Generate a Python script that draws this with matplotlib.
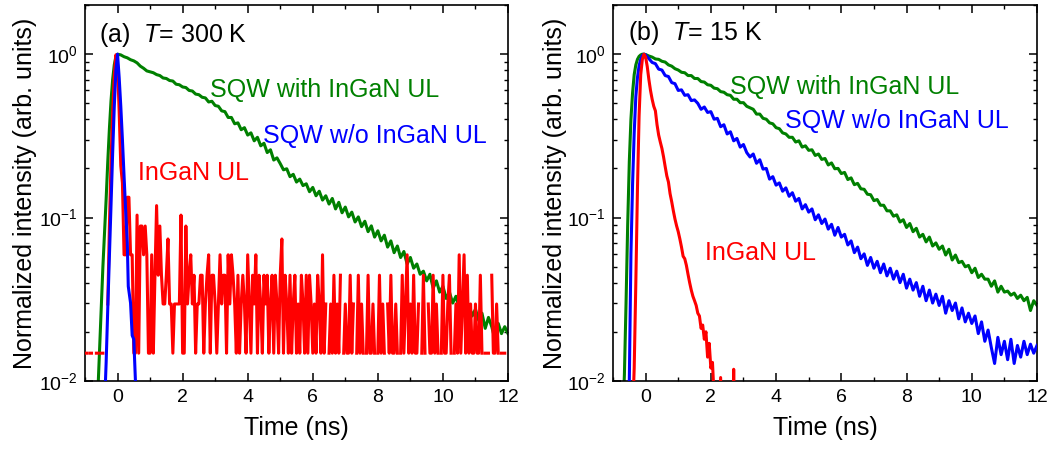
import numpy as np
import matplotlib
matplotlib.use("Agg")
import matplotlib.pyplot as plt
from matplotlib.ticker import MultipleLocator, LogLocator, NullFormatter

# ------------------------------------------------------------------ data
# Panel (a): T = 300 K
green_a_rise_t = [-0.65, -0.60, -0.55, -0.50, -0.45, -0.40, -0.35, -0.30,
                  -0.25, -0.20, -0.15, -0.10, -0.05]
green_a_rise_i = [0.006, 0.009, 0.016, 0.028, 0.05, 0.08, 0.13, 0.22,
                  0.35, 0.52, 0.70, 0.86, 0.97]
green_a_decay_t0 = 0.0
green_a_decay_step = 0.1
green_a_decay_i = [
    1.00, 0.99, 0.965, 0.95, 0.925, 0.91, 0.885, 0.845, 0.82, 0.79,
    0.78, 0.77, 0.75, 0.74, 0.715, 0.71, 0.69, 0.685, 0.655, 0.65,
    0.63, 0.625, 0.60, 0.595, 0.57, 0.565, 0.545, 0.54, 0.51, 0.515,
    0.485, 0.48, 0.45, 0.445, 0.41, 0.41, 0.375, 0.38, 0.345, 0.355,
    0.32, 0.33, 0.295, 0.31, 0.275, 0.285, 0.25, 0.26, 0.225, 0.232,
    0.214, 0.196, 0.199, 0.178, 0.184, 0.165, 0.172, 0.157, 0.161, 0.144,
    0.153, 0.136, 0.145, 0.128, 0.136, 0.121, 0.131, 0.113, 0.124, 0.107,
    0.116, 0.101, 0.108, 0.094, 0.101, 0.088, 0.095, 0.082, 0.089, 0.076,
    0.083, 0.072, 0.078, 0.066, 0.072, 0.061, 0.067, 0.057, 0.062, 0.052,
    0.057, 0.049, 0.052, 0.045, 0.047, 0.041, 0.045, 0.037, 0.041, 0.035,
    0.038, 0.032, 0.035, 0.030, 0.033, 0.028, 0.031, 0.026, 0.029, 0.025,
    0.0275, 0.0235, 0.026, 0.021, 0.0245, 0.0215, 0.018, 0.0225, 0.0195, 0.0215,
    0.0195]

blue_a_t = [-0.45, -0.40, -0.35, -0.30, -0.25, -0.20, -0.15, -0.10, -0.05,
            0.00, 0.05, 0.10, 0.15, 0.20, 0.25, 0.30, 0.33, 0.40, 0.45,
            0.50, 0.55, 0.60, 0.65]
blue_a_i = [0.004, 0.007, 0.013, 0.028, 0.058, 0.12, 0.25, 0.48, 0.80,
            1.00, 0.72, 0.48, 0.30, 0.18, 0.11, 0.07, 0.038, 0.030, 0.019,
            0.018, 0.010, 0.006, 0.004]

# InGaN UL at 300 K: photon counts (0 = no count), 0.05 ns bins from -1 ns
red_a_t0 = -1.0
red_a_step = 0.05
red_a_unit = 0.0148
red_a_counts = [
    1, 1, 0, 1, 1, 0, 0, 1, 1, 0, 1, 1, 0, 0,
    2, 6, 15, 30, 50, 67, 58, 30, 14, 11,
    4, 4, 9, 9, 4, 4, 1, 1, 7, 1, 6, 6, 4, 6, 4, 1,
    1, 4, 1, 3, 8, 3, 6, 3, 2, 2, 3, 5, 2, 2, 1, 2, 2, 2, 2, 7,
    1, 1, 6, 2, 3, 4, 2, 3, 1, 2, 2, 3, 3, 1, 2, 3, 4, 1, 3, 3,
    2, 1, 2, 4, 2, 3, 3, 1, 4, 2, 4, 3, 2, 1, 3, 1, 2, 3, 2, 1,
    4, 2, 1, 3, 2, 4, 1, 3, 2, 1, 3, 2, 3, 1, 2, 3, 1, 3, 2, 1,
    3, 5, 1, 3, 2, 1, 3, 1, 2, 3, 1, 2, 1, 3, 2, 1, 3, 1, 3, 2,
    1, 2, 1, 3, 2, 1, 4, 1, 2, 0, 1, 2, 1, 3, 1, 2, 1, 3, 0, 1,
    2, 1, 1, 3, 1, 2, 0, 1, 3, 1, 2, 1, 0, 1, 3, 1, 1, 2, 1, 0,
    1, 3, 1, 2, 1, 0, 2, 1, 3, 1, 1, 2, 1, 0, 1, 3, 1, 2, 4, 1,
    2, 1, 3, 1, 1, 2, 0, 1, 3, 1, 0, 2, 1, 1, 3, 1, 2, 1, 0, 1,
    3, 1, 1, 2, 3, 1, 0, 1, 2, 1, 4, 1, 2, 4, 1, 3, 1, 2, 1, 1,
    2, 1, 1, 3, 1, 0, 1, 1, 1, 0, 3, 1, 1, 2, 1, 0, 1, 1, 1, 0,
    1]

# Panel (b): T = 15 K
green_b_rise_t = [-0.70, -0.65, -0.60, -0.55, -0.50, -0.45, -0.40, -0.35,
                  -0.30, -0.25, -0.20, -0.15, -0.10, -0.05]
green_b_rise_i = [0.006, 0.011, 0.03, 0.09, 0.22, 0.40, 0.58, 0.75,
                  0.86, 0.93, 0.97, 0.99, 1.00, 1.00]
green_b_decay_t0 = 0.0
green_b_decay_step = 0.1
green_b_decay_i = [
    0.995, 0.975, 0.96, 0.935, 0.93, 0.905, 0.895, 0.86, 0.845, 0.815,
    0.80, 0.775, 0.77, 0.74, 0.74, 0.71, 0.71, 0.68, 0.675, 0.65,
    0.645, 0.62, 0.615, 0.59, 0.585, 0.565, 0.56, 0.53, 0.53, 0.505,
    0.505, 0.48, 0.47, 0.46, 0.43, 0.43, 0.405, 0.40, 0.38, 0.375,
    0.355, 0.35, 0.33, 0.325, 0.31, 0.31, 0.29, 0.295, 0.27, 0.275,
    0.258, 0.26, 0.24, 0.245, 0.227, 0.23, 0.21, 0.216, 0.199, 0.20,
    0.186, 0.189, 0.171, 0.175, 0.159, 0.162, 0.15, 0.149, 0.139, 0.138,
    0.127, 0.129, 0.119, 0.119, 0.110, 0.110, 0.102, 0.104, 0.094, 0.097,
    0.087, 0.092, 0.082, 0.086, 0.076, 0.079, 0.071, 0.076, 0.067, 0.070,
    0.064, 0.067, 0.059, 0.064, 0.055, 0.059, 0.053, 0.054, 0.050, 0.051,
    0.046, 0.049, 0.043, 0.045, 0.042, 0.042, 0.038, 0.041, 0.035, 0.038,
    0.035, 0.0355, 0.0335, 0.0345, 0.032, 0.0335, 0.031, 0.0325, 0.027, 0.031,
    0.029]

blue_b_rise_t = [-0.55, -0.50, -0.45, -0.40, -0.35, -0.30, -0.25, -0.20,
                 -0.15, -0.10, -0.05]
blue_b_rise_i = [0.005, 0.01, 0.06, 0.16, 0.33, 0.55, 0.72, 0.85,
                 0.93, 0.98, 1.00]
blue_b_decay_t0 = 0.0
blue_b_decay_step = 0.1
blue_b_decay_i = [
    0.99, 0.94, 0.89, 0.875, 0.81, 0.80, 0.74, 0.73, 0.67, 0.66,
    0.60, 0.605, 0.56, 0.565, 0.52, 0.525, 0.50, 0.46, 0.475, 0.44,
    0.445, 0.40, 0.405, 0.36, 0.37, 0.325, 0.335, 0.295, 0.305, 0.27,
    0.28, 0.25, 0.235, 0.245, 0.215, 0.226, 0.198, 0.20, 0.172, 0.178,
    0.158, 0.163, 0.145, 0.152, 0.135, 0.142, 0.126, 0.131, 0.113, 0.12,
    0.108, 0.113, 0.097, 0.104, 0.092, 0.098, 0.085, 0.091, 0.078, 0.087,
    0.076, 0.079, 0.068, 0.072, 0.061, 0.066, 0.056, 0.060, 0.051, 0.057,
    0.049, 0.054, 0.046, 0.052, 0.044, 0.049, 0.042, 0.047, 0.040, 0.045,
    0.037, 0.042, 0.036, 0.040, 0.033, 0.038, 0.031, 0.036, 0.030, 0.034,
    0.029, 0.033, 0.026, 0.031, 0.027, 0.030, 0.024, 0.028, 0.023, 0.026,
    0.0225, 0.025, 0.0195, 0.023, 0.0175, 0.0205, 0.016, 0.0128, 0.0185, 0.0145,
    0.0175, 0.0135, 0.018, 0.0128, 0.0165, 0.014, 0.0175, 0.0145, 0.0168, 0.0148,
    0.0165]

red_b_t0 = -0.40
red_b_step = 0.05
red_b_i = [
    0.006, 0.012, 0.04, 0.15, 0.42, 0.75, 0.93, 1.00, 0.96, 0.84,
    0.70, 0.60, 0.53, 0.48, 0.45, 0.37, 0.32, 0.29, 0.265, 0.235,
    0.205, 0.18, 0.165, 0.14, 0.125, 0.11, 0.098, 0.089, 0.082, 0.074,
    0.066, 0.058, 0.056, 0.051, 0.045, 0.040, 0.036, 0.033, 0.031, 0.029,
    0.026, 0.025, 0.021, 0.022, 0.018, 0.020, 0.014, 0.017, 0.012, 0.013,
    0.008, 0.005, 0.003, 0.004, 0.0105, 0.004, 0.002, 0.002, 0.002, 0.002,
    0.003, 0.003, 0.0118, 0.003, 0.002, 0.002]

# text
panel_titles = ["(a)  $T$= 300 K", "(b)  $T$= 15 K"]
label_green = "SQW with InGaN UL"
label_blue = "SQW w/o InGaN UL"
label_red = "InGaN UL"
xlabel = "Time (ns)"
ylabel = "Normalized intensity (arb. units)"
x_ticks = [0, 2, 4, 6, 8, 10, 12]

# ------------------------------------------------------------------ style
plt.rcParams['font.family'] = ['Liberation Sans', 'DejaVu Sans']
plt.rcParams['mathtext.fontset'] = 'custom'
plt.rcParams['mathtext.rm'] = 'Liberation Sans'
plt.rcParams['mathtext.it'] = 'Liberation Sans:italic'
plt.rcParams['mathtext.bf'] = 'Liberation Sans:bold'

GREEN = '#008000'
BLUE = '#0000ff'
RED = '#ff0000'
LW = 2.2


def grid(t0, step, n):
    return t0 + step * np.arange(n)


fig = plt.figure(figsize=(10.49, 4.59), dpi=100)
W, H = 1049, 459
ax_a = fig.add_axes([85 / W, 1 - 381 / H, (508 - 85) / W, (381 - 5) / H])
ax_b = fig.add_axes([613 / W, 1 - 381 / H, (1037 - 613) / W, (381 - 5) / H])

# panel a curves
ga_t = np.concatenate([green_a_rise_t,
                       grid(green_a_decay_t0, green_a_decay_step, len(green_a_decay_i))])
ga_i = np.concatenate([green_a_rise_i, green_a_decay_i])
ra_c = np.array(red_a_counts, dtype=float)
ra_t = grid(red_a_t0, red_a_step, len(ra_c))
ra_i = np.where(ra_c > 0, ra_c * red_a_unit, np.nan)

ax_a.plot(ga_t, ga_i, color=GREEN, lw=LW, zorder=2)
ax_a.plot(ra_t, ra_i, color=RED, lw=LW, zorder=3)
ax_a.plot(blue_a_t, blue_a_i, color=BLUE, lw=LW, zorder=4)

# panel b curves
gb_t = np.concatenate([green_b_rise_t,
                       grid(green_b_decay_t0, green_b_decay_step, len(green_b_decay_i))])
gb_i = np.concatenate([green_b_rise_i, green_b_decay_i])
bb_t = np.concatenate([blue_b_rise_t,
                       grid(blue_b_decay_t0, blue_b_decay_step, len(blue_b_decay_i))])
bb_i = np.concatenate([blue_b_rise_i, blue_b_decay_i])
rb_t = grid(red_b_t0, red_b_step, len(red_b_i))

ax_b.plot(gb_t, gb_i, color=GREEN, lw=LW, zorder=2)
ax_b.plot(bb_t, bb_i, color=BLUE, lw=LW, zorder=3)
ax_b.plot(rb_t, red_b_i, color=RED, lw=LW, zorder=4)

for ax in (ax_a, ax_b):
    ax.set_yscale('log')
    ax.set_xlim(-1, 12)
    ax.set_ylim(0.01, 2.0)
    ax.set_xticks(x_ticks)
    ax.xaxis.set_minor_locator(MultipleLocator(1))
    ax.yaxis.set_major_locator(LogLocator(base=10, numticks=10))
    ax.yaxis.set_minor_locator(LogLocator(base=10, subs=np.arange(2, 10), numticks=20))
    ax.yaxis.set_minor_formatter(NullFormatter())
    ax.tick_params(which='both', direction='in', top=True, right=True)
    ax.tick_params(which='major', length=5.5, width=1.1, labelsize=14)
    ax.tick_params(which='minor', length=3, width=1.0)
    ax.tick_params(axis='x', which='major', pad=6)
    ax.tick_params(axis='y', which='major', pad=5)
    for sp in ax.spines.values():
        sp.set_linewidth(1.2)
    ax.set_xlabel(xlabel, fontsize=18)
    ax.set_ylabel(ylabel, fontsize=18)
    ax.xaxis.set_label_coords(0.5, -0.093)

ax_a.yaxis.set_label_coords(-0.113, 0.5)
ax_b.yaxis.set_label_coords(-0.108, 0.5)

FS = 18
ax_a.text(0.033, 0.902, panel_titles[0], transform=ax_a.transAxes, fontsize=FS, va='baseline')
ax_a.text(0.296, 0.755, label_green, transform=ax_a.transAxes, fontsize=FS, color=GREEN, va='baseline')
ax_a.text(0.421, 0.633, label_blue, transform=ax_a.transAxes, fontsize=FS, color=BLUE, va='baseline')
ax_a.text(0.125, 0.535, label_red, transform=ax_a.transAxes, fontsize=FS, color=RED, va='baseline')

ax_b.text(0.035, 0.907, panel_titles[1], transform=ax_b.transAxes, fontsize=FS, va='baseline')
ax_b.text(0.276, 0.763, label_green, transform=ax_b.transAxes, fontsize=FS, color=GREEN, va='baseline')
ax_b.text(0.406, 0.673, label_blue, transform=ax_b.transAxes, fontsize=FS, color=BLUE, va='baseline')
ax_b.text(0.217, 0.322, label_red, transform=ax_b.transAxes, fontsize=FS, color=RED, va='baseline')

fig.savefig('out.png', dpi=100)
